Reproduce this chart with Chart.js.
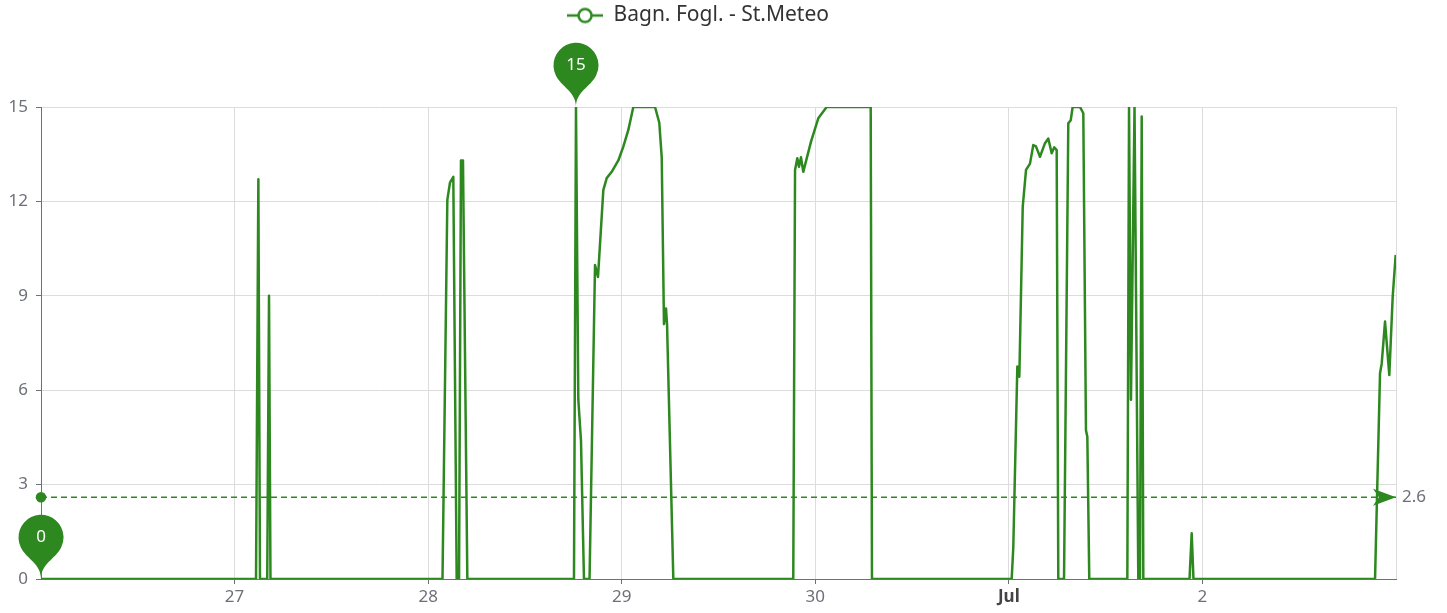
<!DOCTYPE html>
<html>
<head>
<meta charset="utf-8">
<script src="https://cdn.jsdelivr.net/npm/chart.js@4.4.1/dist/chart.umd.min.js"></script>
<style>
html, body { margin: 0; padding: 0; background: #fff; }
</style>
</head>
<body>
<canvas id="chart" width="1447" height="613"></canvas>
<script>
// series: hours since 26 Jun 00:00 and reading
var seriesName = 'Bagn. Fogl. - St.Meteo';
var hours = [
    0, 26.66, 26.95, 27.15, 28.05, 28.27, 28.45,
    49.78, 50.38, 50.71, 51.12, 51.54, 51.83, 52.07, 52.32, 52.86,
    66.08, 66.33, 66.62, 66.95, 67.32, 68.01, 68.69, 69.06, 69.72, 70.14, 70.76, 71.58,
    72.20, 72.82, 73.44, 76.13, 76.66, 76.96, 77.24, 77.49, 77.62, 78.40,
    93.27, 93.49, 93.77, 93.98, 94.23, 94.51, 94.97, 95.47, 96.37, 97.41, 102.87, 103.03,
    120.35, 120.55, 121.05, 121.30, 121.72, 122.13, 122.62, 123.03, 123.36, 123.86, 124.48,
    124.89, 125.31, 125.63, 125.93, 126.13, 126.84, 127.37, 127.67, 127.91, 128.82, 129.23,
    129.56, 129.73, 129.97,
    134.69, 134.90, 135.14, 135.58, 136.05, 136.26, 136.47, 136.67,
    142.40, 142.67, 142.89,
    165.40, 166.02, 166.23, 166.64, 167.17, 167.59, 167.96
];
var values = [
    0, 0, 12.7, 0, 0, 9.0, 0,
    0, 12.05, 12.6, 12.78, 0, 0, 13.3, 13.3, 0,
    0, 15, 5.7, 4.4, 0, 0, 9.98, 9.6, 12.36, 12.74, 12.94, 13.3,
    13.74, 14.27, 15, 15, 14.5, 13.4, 8.1, 8.6, 8.1, 0,
    0, 13.0, 13.37, 13.1, 13.4, 12.94, 13.4, 13.9, 14.64, 15, 15, 0,
    0, 1.0, 6.75, 6.43, 11.83, 13.0, 13.2, 13.79, 13.75, 13.42, 13.85,
    14.0, 13.53, 13.72, 13.63, 0, 0, 14.48, 14.58, 15, 15, 14.8,
    4.73, 4.52, 0,
    0, 15, 5.7, 15, 0, 0, 14.7, 0,
    0, 1.45, 0,
    0, 6.54, 6.85, 8.18, 6.48, 8.97, 10.3
];
var avgValue = 2.6;
var tickHours = [24, 48, 72, 96, 120, 144, 168];
var tickLabels = ['27', '28', '29', '30', 'Jul', '2', ''];

var green = 'rgb(45,137,31)';
var axisColor = '#6e7079';
var gridColor = '#dcdcdc';
var fontFamily = '"Noto Sans", "Open Sans", sans-serif';

// legend icon: line with hollow circle
function makeLegendIcon() {
    var c = document.createElement('canvas');
    c.width = 36; c.height = 18;
    var g = c.getContext('2d');
    g.strokeStyle = green;
    g.lineWidth = 2.5;
    g.beginPath(); g.moveTo(0, 9); g.lineTo(36, 9); g.stroke();
    g.beginPath(); g.arc(18, 9, 6.5, 0, Math.PI * 2);
    g.fillStyle = '#fff'; g.fill(); g.stroke();
    return c;
}

// echarts style pin, tip at (x, y)
function pinPath(ctx, x, y, w, h) {
    var r = w / 2;
    var dy = r * r / (h - r);
    var cy = y - h + r + dy;
    var angle = Math.asin(dy / r);
    var dx = Math.cos(angle) * r;
    var tanX = Math.sin(angle), tanY = Math.cos(angle);
    var cp = r * 0.6, cp2 = r * 0.7;
    ctx.beginPath();
    ctx.moveTo(x - dx, cy + dy);
    ctx.arc(x, cy, r, Math.PI - angle, Math.PI * 2 + angle);
    ctx.bezierCurveTo(x + dx - tanX * cp, cy + dy + tanY * cp, x, y - cp2, x, y);
    ctx.bezierCurveTo(x, y - cp2, x - dx + tanX * cp, cy + dy + tanY * cp, x - dx, cy + dy);
    ctx.closePath();
    return cy;
}

var markPlugin = {
    id: 'marks',
    beforeInit: function(chart) {
        var fit = chart.legend.fit;
        chart.legend.fit = function() {
            fit.call(chart.legend);
            this.height = 107;
        };
    },
    afterDraw: function(chart) {
        var ctx = chart.ctx;
        var xs = chart.scales.x, ys = chart.scales.y;
        // average arrow + label
        var ax = xs.getPixelForValue(168), ay = ys.getPixelForValue(avgValue);
        ctx.save();
        ctx.fillStyle = green;
        ctx.beginPath();
        ctx.moveTo(ax, ay);
        ctx.lineTo(ax - 23, ay - 8.5);
        ctx.lineTo(ax - 17, ay);
        ctx.lineTo(ax - 23, ay + 8.5);
        ctx.closePath();
        ctx.fill();
        ctx.fillStyle = axisColor;
        ctx.font = '17px ' + fontFamily;
        ctx.textBaseline = 'middle';
        ctx.textAlign = 'left';
        ctx.fillText(String(avgValue), ax + 6, ay);

        // max / min pins
        var iMax = 0, iMin = 0;
        for (var i = 1; i < values.length; i++) {
            if (values[i] > values[iMax]) iMax = i;
            if (values[i] < values[iMin]) iMin = i;
        }
        [iMax, iMin].forEach(function(idx) {
            var px = xs.getPixelForValue(hours[idx]);
            var py = ys.getPixelForValue(values[idx]);
            var cy = pinPath(ctx, px, py, 45, 74);
            ctx.fillStyle = green;
            ctx.fill();
            ctx.fillStyle = '#fff';
            ctx.textAlign = 'center';
            ctx.font = '17px ' + fontFamily;
            ctx.fillText(String(values[idx]), px, cy);
        });
        ctx.restore();
    }
};

var ctx = document.getElementById('chart').getContext('2d');
var chart = new Chart(ctx, {
    type: 'line',
    data: {
        datasets: [{
            label: seriesName,
            data: hours.map(function(h, i) { return { x: h, y: values[i] }; }),
            borderColor: green,
            backgroundColor: green,
            borderWidth: 2.5,
            borderJoinStyle: 'round',
            pointRadius: 0,
            tension: 0,
            pointStyle: makeLegendIcon()
        }, {
            label: 'avg',
            data: [{ x: 0, y: avgValue }, { x: 168, y: avgValue }],
            borderColor: green,
            backgroundColor: green,
            borderWidth: 1.5,
            borderDash: [6, 4],
            pointRadius: [5.3, 0],
            pointBorderWidth: 0,
            clip: false
        }]
    },
    options: {
        responsive: false,
        animation: false,
        events: [],
        devicePixelRatio: 1,
        layout: { padding: { left: 0, right: 51, top: 0, bottom: 0 } },
        plugins: {
            legend: {
                position: 'top',
                labels: {
                    usePointStyle: true,
                    pointStyleWidth: 36,
                    boxHeight: 18,
                    padding: 5,
                    color: '#333',
                    font: { family: fontFamily, size: 21 },
                    filter: function(item) { return item.datasetIndex === 0; }
                }
            },
            tooltip: { enabled: false }
        },
        scales: {
            x: {
                type: 'linear',
                min: 0,
                max: 168,
                afterBuildTicks: function(scale) {
                    scale.ticks = tickHours.map(function(v) { return { value: v }; });
                },
                afterFit: function(scale) { scale.height = 34; },
                grid: {
                    color: gridColor,
                    tickLength: 5,
                    tickColor: function(c) {
                        return c.tick && c.tick.value === 168 ? 'rgba(0,0,0,0)' : axisColor;
                    }
                },
                border: { color: axisColor, width: 1 },
                ticks: {
                    padding: 3,
                    maxRotation: 0,
                    autoSkip: false,
                    color: function(c) { return c.tick && c.tick.value === 120 ? '#444' : axisColor; },
                    font: function(c) {
                        return { family: fontFamily, size: 17, weight: c.tick && c.tick.value === 120 ? 'bold' : 'normal' };
                    },
                    callback: function(v) {
                        var i = tickHours.indexOf(v);
                        return i >= 0 ? tickLabels[i] : '';
                    }
                }
            },
            y: {
                min: 0,
                max: 15,
                afterFit: function(scale) { scale.width = 41; },
                grid: { color: gridColor, tickLength: 5, tickColor: axisColor },
                border: { color: axisColor, width: 1 },
                ticks: {
                    stepSize: 3,
                    padding: 8,
                    color: axisColor,
                    font: { family: fontFamily, size: 17 }
                }
            }
        }
    },
    plugins: [markPlugin]
});
</script>
</body>
</html>
